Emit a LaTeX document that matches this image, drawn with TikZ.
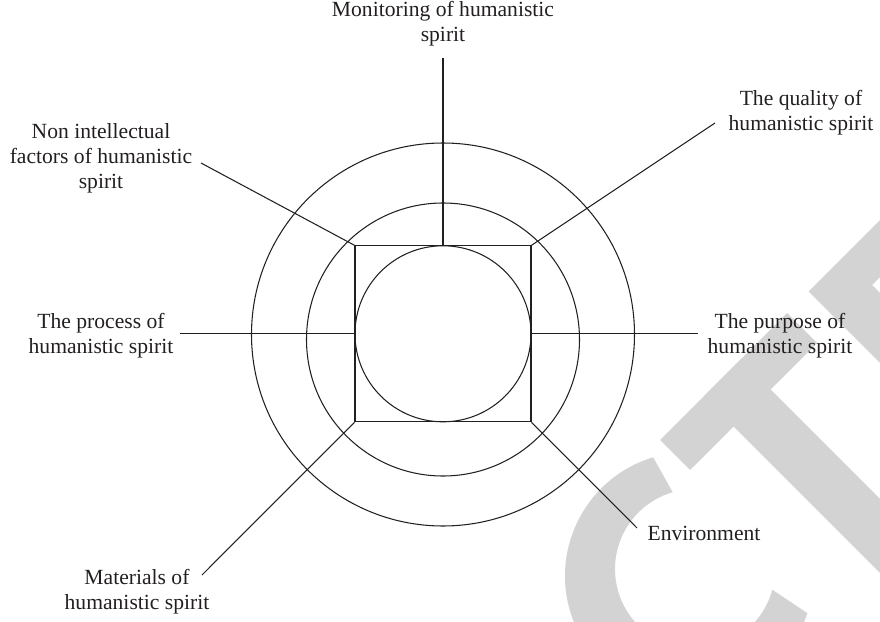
\documentclass[tikz,border=0pt]{standalone}
\usepackage{fontspec}
\setmainfont{Liberation Serif}
\usepackage{xcolor}
\definecolor{inkgray}{RGB}{35,31,32}
\definecolor{markgray}{RGB}{211,211,211}
\usetikzlibrary{calc,positioning}

\begin{document}
\begin{tikzpicture}[x=0.02cm,y=-0.02cm,
  ring/.style={draw=inkgray,line width=0.6pt},
  spoke/.style={draw=inkgray,line width=0.6pt},
  facet/.style={align=center,inner sep=0pt,text=inkgray,
    font=\fontsize{12.3}{14.2}\selectfont},
  stamp/.style={fill=markgray,draw=none}
]
  \useasboundingbox (0,0) rectangle (880,622);
  % Watermark letters (C, T, E)
  \begin{scope}
    \clip (0,0) rectangle (880,622);
    \coordinate (couter) at (689,576);
    \coordinate (cinner) at (695,569);
    \fill[stamp] ($(couter)+(-106.8:124)$) arc[start angle=-106.8,end angle=-342.6,radius=124]
      -- ($(cinner)+(-345:80)$) arc[start angle=-345,end angle=-106.2,radius=80] -- cycle;
    \fill[stamp] (660,440) -- (787,313) -- (817,343) -- (690,470) -- cycle;
    \fill[stamp] (703.5,396.5) -- (740.5,359.5) -- (990.5,609.5) -- (953.5,646.5) -- cycle;
    \fill[stamp] (808.5,291.5) -- (1050,50) -- (1078.5,78.5) -- (872,285)
      -- (1093.5,506.5) -- (1058.5,541.5) -- cycle;
  \end{scope}
  % Rings and core
  \draw[ring] (443,334.5) circle[radius=191.5];
  \draw[ring] (443,339.5) circle[radius=136.5];
  \node[ring,minimum size=3.52cm,inner sep=0pt] (sq) at (443,333.8) {};
  \draw[ring] (sq.center) circle[radius=88];
  % Labels
  \node[facet] (monitor) at (443,24) {Monitoring of humanistic\\spirit};
  \node[facet] (nonint) at (101,158) {Non intellectual\\factors of humanistic\\spirit};
  \node[facet] (quality) at (801,112.5) {The quality of\\humanistic spirit};
  \node[facet] (process) at (101,336) {The process of\\humanistic spirit};
  \node[facet] (purpose) at (780,336) {The purpose of\\humanistic spirit};
  \node[facet] (material) at (137,591.5) {Materials of\\humanistic spirit};
  \node[facet] (environ) at (704,533) {Environment};
  % Free ends of the spokes
  \coordinate (monitorend) at (443,58);
  \coordinate (nonintend) at (201,163);
  \coordinate (qualityend) at (715,123);
  \coordinate (processend) at (180,333.8);
  \coordinate (purposeend) at (698,333.8);
  \coordinate (materialend) at (202,575);
  \coordinate (environend) at (637,528);
  % Spokes
  \draw[spoke] (sq.north) -- (monitorend);
  \draw[spoke] (sq.north west) -- (nonintend);
  \draw[spoke] (sq.north east) -- (qualityend);
  \draw[spoke] (sq.west) -- (processend);
  \draw[spoke] (sq.east) -- (purposeend);
  \draw[spoke] (sq.south west) -- (materialend);
  \draw[spoke] (sq.south east) -- (environend);
\end{tikzpicture}
\end{document}
